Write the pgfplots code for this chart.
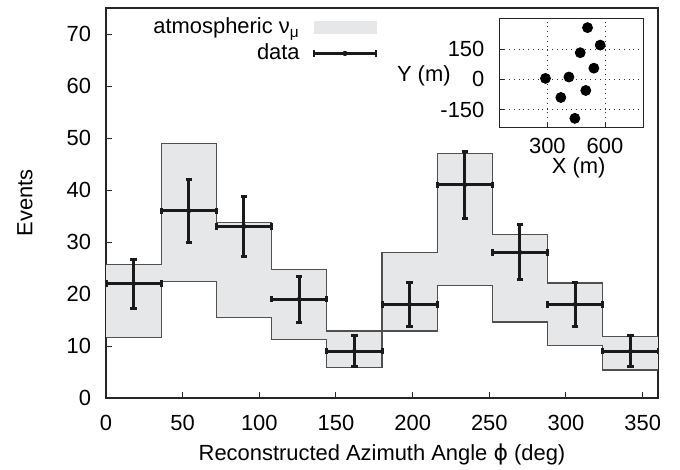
\documentclass[border=0pt]{standalone}
\usepackage{fontspec}
\setmainfont{Liberation Sans}
\newfontfamily\dejavu{DejaVu Sans}
\usepackage{pgfplots}
\usepackage{pgfplotstable}
\pgfplotsset{compat=1.18}
\usepgfplotslibrary{fillbetween}

\definecolor{bandfill}{HTML}{E6E7E9}
\definecolor{bandedge}{HTML}{505050}
\definecolor{barcol}{HTML}{1A1A1A}

% expected atmospheric band, bin edges (last row repeats the last bin)
\pgfplotstableread{
x   up   lo
0   25.7 11.7
36  49.0 22.4
72  33.8 15.5
108 24.7 11.3
144 12.9 5.9
180 28.0 12.9
216 47.0 21.6
252 31.5 14.6
288 22.1 10.1
324 11.9 5.4
360 11.9 5.4
}\band

% observed events per bin
\pgfplotstableread{
x   y  ex ey
18  22 18 4.7
54  36 18 6.0
90  33 18 5.7
126 19 18 4.4
162 9  18 3.0
198 18 18 4.2
234 41 18 6.4
270 28 18 5.3
306 18 18 4.2
342 9  18 3.0
}\events

% station positions
\pgfplotstableread{
X   Y
509 258
575 171
471 133
542 56
290 5
412 12
500 -55
370 -90
443 -194
}\stations

\begin{document}
\begin{tikzpicture}[font=\fontsize{11}{13}\selectfont]
\begin{axis}[
    scale only axis,
    width=276bp, height=195bp,
    xmin=0, xmax=360, ymin=0, ymax=75,
    xtick={0,50,...,350},
    ytick={0,10,...,70},
    tick pos=left,
    tick align=inside,
    major tick length=3bp,
    axis line style={line width=0.7bp, black!85},
    tick style={line width=0.5bp, black!85},
    /pgf/number format/assume math mode=true,
    xticklabel style={yshift=-5bp},
    yticklabel style={xshift=-4bp},
    xlabel={Reconstructed Azimuth Angle {\dejavu ϕ} (deg)},
    ylabel={Events},
    xlabel style={at={(axis description cs:0.5,-0.146)}, anchor=center},
    ylabel style={at={(axis description cs:-0.147,0.5)}, anchor=center},
    legend style={at={(rel axis cs:0.503,0.993)}, anchor=north east,
        draw=none, fill=none, row sep=0.5bp, column sep=5bp,
        nodes={inner sep=1.5bp}},
    legend cell align=right,
    legend plot pos=right,
]
\addplot[draw=none, name path=up, const plot, forget plot] table[x=x, y=up] {\band};
\addplot[draw=none, name path=lo, const plot, forget plot] table[x=x, y=lo] {\band};
\addplot[bandfill,
    legend image code/.code={\fill[bandfill] (0bp,-3bp) rectangle (31bp,3bp);}]
    fill between[of=up and lo];
\addlegendentry{atmospheric ν\textsubscript{μ}}
\addplot[bandedge, line width=0.6bp, const plot, forget plot] table[x=x, y=up] {\band};
\addplot[bandedge, line width=0.6bp, const plot, forget plot] table[x=x, y=lo] {\band};
\addplot[barcol, only marks, mark=*, mark size=1bp,
    error bars/.cd,
    x dir=both, x explicit, y dir=both, y explicit,
    error bar style={line width=1.5bp, barcol},
    error mark options={rotate=90, barcol, line width=1.5bp, mark size=1.6bp},
    /pgfplots/legend image code/.code={
        \draw[barcol, line width=1.3bp] (0bp,0bp) -- (31bp,0bp);
        \draw[barcol, line width=1.3bp] (0bp,-1.6bp) -- (0bp,1.6bp);
        \draw[barcol, line width=1.3bp] (31bp,-1.6bp) -- (31bp,1.6bp);
        \fill[barcol] (15.5bp,0bp) circle (1.1bp);}]
    table[x=x, y=y, x error=ex, y error=ey] {\events};
\addlegendentry{data}
\end{axis}

\begin{axis}[
    at={(196.7bp,135.2bp)}, anchor=south west,
    scale only axis,
    width=72bp, height=54.7bp,
    xmin=50, xmax=800, ymin=-240, ymax=305,
    xtick={300,600}, ytick={-150,0,150},
    tick pos=left,
    tick align=inside,
    major tick length=2.5bp,
    grid=major,
    grid style={dotted, black!80, line width=0.4bp},
    axis line style={line width=0.6bp, black!85},
    tick style={line width=0.5bp, black!85},
    axis background/.style={fill=white},
    /pgf/number format/assume math mode=true,
    yticklabel style={xshift=-4bp},
    xticklabel style={yshift=-2bp},
    xlabel={X (m)},
    ylabel={Y (m)},
    xlabel style={at={(axis description cs:0.55,-0.37)}, anchor=center},
    ylabel style={rotate=-90, at={(axis description cs:-0.29,0.47)}, anchor=east},
]
\addplot[black, only marks, mark=*, mark size=2.5bp] table[x=X, y=Y] {\stations};
\end{axis}

\pgfresetboundingbox
\path (-53bp,-36bp) rectangle (287bp,199bp);
\end{tikzpicture}
\end{document}
